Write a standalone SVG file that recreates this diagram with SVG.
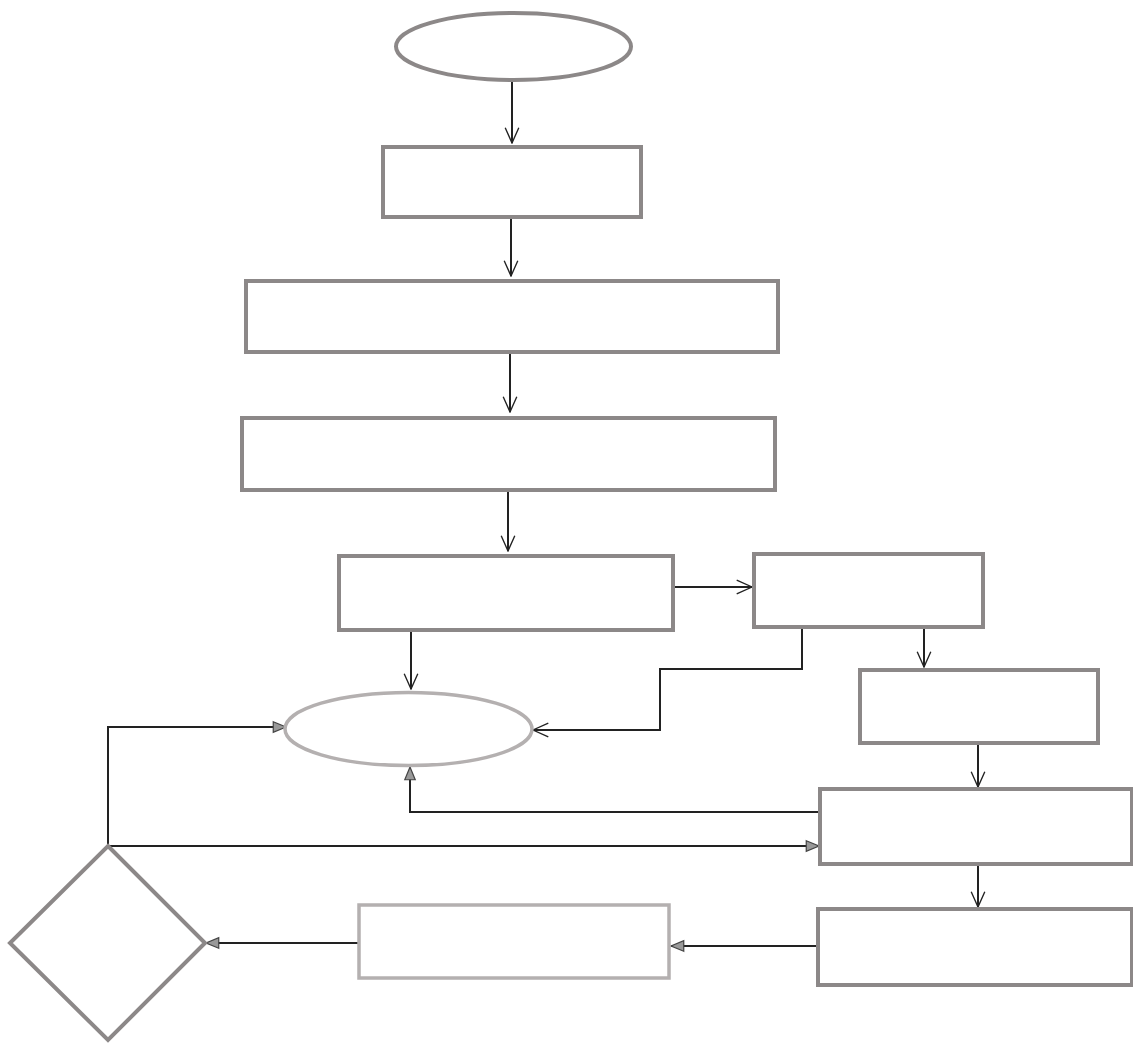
<svg xmlns="http://www.w3.org/2000/svg" width="1133" height="1044" viewBox="0 0 1133 1044">
<style>
.n{fill:#fff;stroke:#8c8888;stroke-width:4}
.l{fill:#fff;stroke:#b4b0b0;stroke-width:3.5}
.c{fill:none;stroke:#222;stroke-width:2}
.v{marker-end:url(#open)}
.t{marker-end:url(#tri)}
</style>
<defs>
<marker id="open" viewBox="0 0 20 20" refX="19" refY="10" markerWidth="17" markerHeight="17" markerUnits="userSpaceOnUse" orient="auto">
<path d="M1,2 L19,10 L1,18" fill="none" stroke="#222" stroke-width="1.6"/>
</marker>
<marker id="tri" viewBox="0 0 20 20" refX="19" refY="10" markerWidth="15" markerHeight="15" markerUnits="userSpaceOnUse" orient="auto">
<path d="M2,3 L19,10 L2,17 Z" fill="#999" stroke="#444" stroke-width="1.6"/>
</marker>
</defs>
<rect width="1133" height="1044" fill="#fff"/>
<g id="connectors">
<path class="c v" d="M512,80 V143"/>
<path class="c v" d="M511,218 V276"/>
<path class="c v" d="M510,352 V412"/>
<path class="c v" d="M508,490 V551"/>
<path class="c v" d="M673,587 H752"/>
<path class="c v" d="M411,630 V689"/>
<path class="c v" d="M802,627 V669 H660 V730 H533"/>
<path class="c v" d="M924,627 V667"/>
<path class="c v" d="M978,743 V787"/>
<path class="c t" d="M820,812 H410 V767"/>
<path class="c t" d="M108,846 V727 H286"/>
<path class="c t" d="M108,846 H819"/>
<path class="c v" d="M978,864 V907"/>
<path class="c t" d="M818,946 H671"/>
<path class="c t" d="M359,943 H206"/>
</g>
<g id="start"><ellipse class="n" cx="513.5" cy="46.5" rx="117.5" ry="33.5"/></g>
<g id="box1"><rect class="n" x="383" y="147" width="258" height="70"/></g>
<g id="box2"><rect class="n" x="246" y="281" width="532" height="71"/></g>
<g id="box3"><rect class="n" x="242" y="418" width="533" height="72"/></g>
<g id="box4"><rect class="n" x="339" y="556" width="334" height="74"/></g>
<g id="box5"><rect class="n" x="754" y="554" width="229" height="73"/></g>
<g id="end"><ellipse class="l" cx="408.5" cy="729" rx="123.5" ry="36.5"/></g>
<g id="box6"><rect class="n" x="860" y="670" width="238" height="73"/></g>
<g id="box7"><rect class="n" x="820" y="789" width="312" height="75"/></g>
<g id="box8"><rect class="n" x="818" y="909" width="314" height="76"/></g>
<g id="box9"><rect class="l" x="359" y="905" width="310" height="73"/></g>
<g id="decision"><polygon class="n" points="108,846 205,943 108,1040 10,943"/></g>
</svg>
